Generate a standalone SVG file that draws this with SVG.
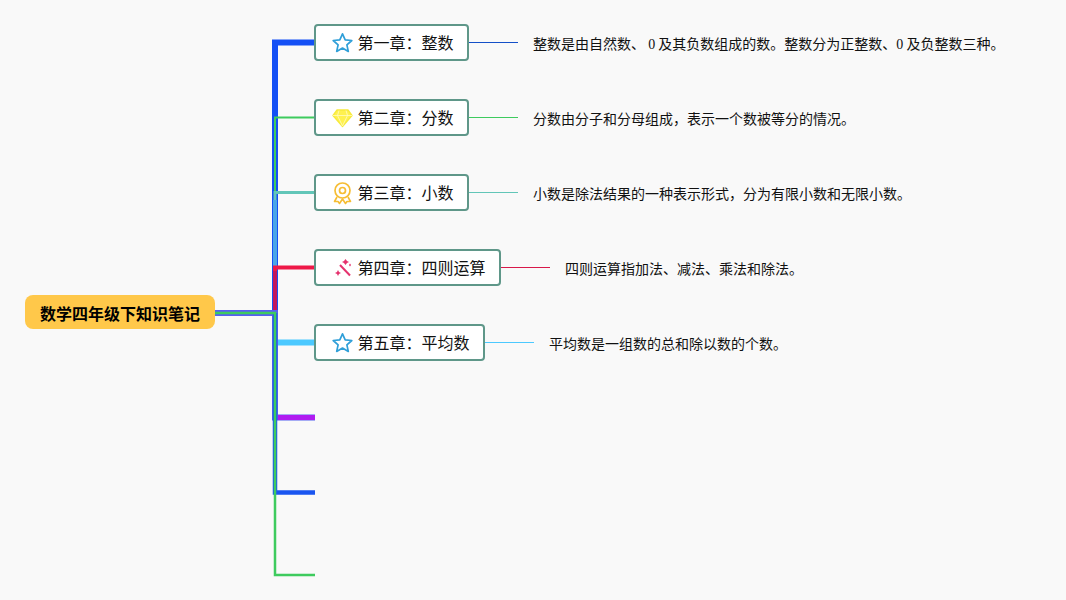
<svg xmlns="http://www.w3.org/2000/svg" width="1066" height="600" viewBox="0 0 1066 600">
<style>
.c{fill:none;stroke-linejoin:miter}
.n{fill:#fff;stroke:#5f9789;stroke-width:2}
.t{font:16px "Noto Sans CJK SC","Noto Sans",sans-serif;fill:#111}
.d{font:14px "Noto Sans CJK SC","Noto Sans",sans-serif;fill:#111}
.z{font-family:"Liberation Serif",serif}
.r{font:bold 16px "Noto Sans CJK SC","Noto Sans",sans-serif;fill:#000;text-anchor:middle}
</style>
<defs>
<g id="star"><path d="M0-9.200 2.700-3.200 9.300-2.500 4.400 1.900 5.800 8.400 0 5.100-5.800 8.400-4.400 1.900-9.300-2.500-2.700-3.200Z" fill="#fff" stroke="#2f9fd8" stroke-width="1.700" stroke-linejoin="round"/></g>
</defs>
<rect width="1066" height="600" fill="#f9f9f9"/>
<g id="connectors">
<path class="c" d="M215 313H275V42.500H315" stroke="#1450f5" stroke-width="6"/>
<path class="c" d="M275 313V117.500H315" stroke="#3ecb5e" stroke-width="2"/>
<path class="c" d="M275 268V192.500H315" stroke="#62c6b8" stroke-width="3"/>
<path class="c" d="M275 268V200" stroke="#4aa6e8" stroke-width="4"/>
<path class="c" d="M275 310V267.500H315" stroke="#ee1848" stroke-width="4"/>
<path class="c" d="M275 310V271" stroke="#c2185c" stroke-width="4"/>
<path class="c" d="M275 342.500H315" stroke="#4cc9ff" stroke-width="6"/>
<path class="c" d="M215 313H275V417.500H315" stroke="#5560f0" stroke-width="6"/>
<path class="c" d="M278 417.500H315" stroke="#b01cf0" stroke-width="5"/>
<path class="c" d="M275 313V492.500H315" stroke="#1a55f0" stroke-width="4.500"/>
<path class="c" d="M215 313H275V575H315" stroke="#3ecb5e" stroke-width="2.500"/>
<path d="M469 42.500H518" stroke="#1450c8" fill="none"/>
<path d="M469 117.500H518" stroke="#3ecb5e" fill="none"/>
<path d="M469 192.500H518" stroke="#62c6b8" fill="none"/>
<path d="M501 267.500H550" stroke="#d8184a" fill="none"/>
<path d="M485 342.500H534" stroke="#4cc9ff" fill="none"/>
</g>
<g id="root">
<rect x="25" y="295" width="190" height="34" rx="8" fill="#ffc84a"/>
<text class="r" x="120" y="319.500">数学四年级下知识笔记</text>
</g>
<g id="node1">
<rect class="n" x="315" y="25" width="153" height="35" rx="3"/>
<use href="#star" x="342.500" y="43"/>
<text class="t" x="357.500" y="49">第一章：整数</text>
<text class="d" x="533" y="49">整数是由自然数、 <tspan class="z">0</tspan> 及其负数组成的数。整数分为正整数、<tspan class="z">0</tspan> 及负整数三种。</text>
</g>
<g id="node2">
<rect class="n" x="315" y="100" width="153" height="35" rx="3"/>
<path d="M337 110H348L352 115.500 342.500 126.500 333 115.500Z" fill="#fff14f" stroke="#f7ea3c" stroke-width="1.300" stroke-linejoin="round"/>
<path d="M333 115.500H352M339 110.500 337.500 115.500 342.500 126 347.500 115.500 346 110.500" fill="none" stroke="#fffbc0" stroke-width=".8"/>
<text class="t" x="357.500" y="124">第二章：分数</text>
<text class="d" x="533" y="124">分数由分子和分母组成，表示一个数被等分的情况。</text>
</g>
<g id="node3">
<rect class="n" x="315" y="175" width="153" height="35" rx="3"/>
<circle cx="342.500" cy="190.500" r="7.500" fill="none" stroke="#f6bd33" stroke-width="1.700"/>
<circle cx="342.500" cy="190.500" r="3" fill="none" stroke="#f6bd33" stroke-width="1.700"/>
<path d="M337 197 334.500 201.500 338 201.500 339.500 203.500 342.500 199 345.500 203.500 347 201.500 350.500 201.500 348 197" fill="none" stroke="#f6bd33" stroke-width="1.600" stroke-linejoin="round"/>
<text class="t" x="357.500" y="199">第三章：小数</text>
<text class="d" x="533" y="199">小数是除法结果的一种表示形式，分为有限小数和无限小数。</text>
</g>
<g id="node4">
<rect class="n" x="315" y="250" width="185" height="35" rx="3"/>
<path d="M340 265 350 275.500" stroke="#e5326e" stroke-width="2" fill="none"/>
<path d="M345.500 259 347 261 349 262 347 263 345.500 265 344 263 342 262 344 261ZM338 270 339 272 341 273 339 274 338 276 337 274 335 273 337 272ZM350 263.500 351 265 350 266.500 349 265Z" fill="#e5326e"/>
<text class="t" x="357.500" y="274">第四章：四则运算</text>
<text class="d" x="565" y="274">四则运算指加法、减法、乘法和除法。</text>
</g>
<g id="node5">
<rect class="n" x="315" y="325" width="169" height="35" rx="3"/>
<use href="#star" x="342.500" y="343"/>
<text class="t" x="357.500" y="349">第五章：平均数</text>
<text class="d" x="549" y="349">平均数是一组数的总和除以数的个数。</text>
</g>
</svg>
